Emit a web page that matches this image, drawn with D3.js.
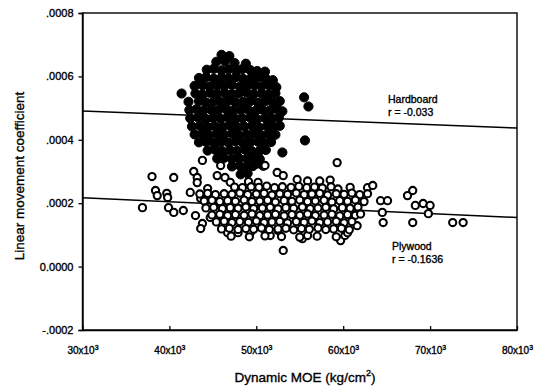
<!DOCTYPE html>
<html><head><meta charset="utf-8">
<script src="https://cdn.jsdelivr.net/npm/d3@7"></script>
<style>
body{margin:0;background:#fff}
text{font-family:"Liberation Sans",Arial,Helvetica,sans-serif;fill:#000;stroke:#000;stroke-width:0.35px}
</style>
</head><body><svg id="c" width="545" height="387"></svg>
<script>
// Dynamic MOE in 10^3 kg/cm^2, linear movement coefficient
const xTicks = [30, 40, 50, 60, 70, 80];
const yTicks = [-0.0002, 0, 0.0002, 0.0004, 0.0006, 0.0008];
const yTickLabels = ["-.0002", "0.0000", ".0002", ".0004", ".0006", ".0008"];

const hardboardFit = [[30, 0.000491], [80, 0.000437]];
const plywoodFit = [[30, 0.000217], [80, 0.000155]];

const hardboard = [
[46.0,.000668],[46.9,.000664],
[45.4,.000646],[46.4,.000648],[47.5,.000642],[48.8,.000640],
[44.3,.000621],[45.1,.000624],[46.0,.000619],[46.8,.000622],[47.7,.000618],[48.4,.000623],[49.3,.000620],[50.1,.000617],[51.0,.000615],
[43.4,.000595],[44.2,.000597],[45.1,.000593],[46.0,.000596],[46.8,.000594],[47.7,.000598],[48.5,.000592],[49.4,.000595],[50.3,.000597],[51.1,.000593],[51.9,.000588],
[42.9,.000570],[43.8,.000572],[44.6,.000568],[45.5,.000571],[46.3,.000569],[47.2,.000573],[48.1,.000567],[48.9,.000570],[49.8,.000572],[50.6,.000568],[51.5,.000571],[52.3,.000566],
[41.4,.000546],[43.0,.000546],[43.8,.000543],[44.7,.000548],[45.5,.000545],[46.4,.000547],[47.2,.000544],[48.0,.000546],[48.9,.000549],[49.7,.000544],[50.6,.000546],[51.4,.000543],[52.2,.000547],
[42.2,.000520],[43.4,.000522],[44.2,.000518],[45.1,.000521],[45.9,.000519],[46.8,.000523],[47.6,.000518],[48.5,.000520],[49.3,.000522],[50.2,.000517],[51.0,.000521],[51.9,.000519],[52.7,.000522],
[42.3,.000494],[43.1,.000496],[43.9,.000492],[44.8,.000495],[45.6,.000493],[46.5,.000497],[47.3,.000492],[48.2,.000494],[49.0,.000496],[49.9,.000491],[50.7,.000495],[51.6,.000493],[52.4,.000496],[53.0,.000490],
[42.4,.000468],[43.3,.000470],[44.2,.000466],[45.0,.000469],[45.9,.000467],[46.7,.000471],[47.6,.000466],[48.4,.000468],[49.3,.000470],[50.1,.000465],[51.0,.000469],[51.8,.000467],[52.6,.000470],
[42.6,.000442],[43.5,.000444],[44.4,.000440],[45.2,.000443],[46.1,.000441],[46.9,.000445],[47.8,.000440],[48.6,.000442],[49.5,.000444],[50.3,.000439],[51.2,.000443],[52.0,.000441],[52.7,.000444],
[42.9,.000417],[43.8,.000419],[44.6,.000415],[45.5,.000418],[46.3,.000416],[47.2,.000420],[48.0,.000415],[48.9,.000417],[49.7,.000419],[50.6,.000414],[51.4,.000418],[52.2,.000416],
[43.4,.000392],[44.2,.000394],[45.1,.000390],[45.9,.000393],[46.8,.000391],[47.6,.000395],[48.5,.000390],[49.3,.000392],[50.2,.000394],[51.0,.000389],[51.7,.000393],
[44.4,.000366],[45.3,.000368],[46.1,.000364],[47.0,.000367],[47.8,.000365],[48.7,.000369],[49.5,.000364],[50.4,.000366],[51.1,.000368],
[45.5,.000341],[46.3,.000343],[47.2,.000339],[48.0,.000342],[48.9,.000340],[49.7,.000344],[50.4,.000339],
[47.2,.000316],[48.1,.000318],[48.9,.000314],[49.6,.000317],[50.1,.000325],
[48.2,.000291],[49.0,.000294],
[55.5,.000534],[56.0,.000505],[55.6,.000398],[53.0,.000360],[50.8,.000318]
];

const plywood = [
[38.0,.000284],[40.5,.000281],[42.8,.000300],[43.2,.000281],[43.2,.000265],[43.8,.000335],[45.9,.000319],[45.5,.000287],[46.4,.000281],[44.4,.000246],
[51.0,.000319],[52.4,.000297],[53.1,.000287],[59.3,.000328],[62.8,.000249],[63.4,.000256],[64.3,.000208],[65.1,.000208],[64.5,.000171],[64.6,.000139],
[67.4,.000224],[68.0,.000240],[68.3,.000193],[69.2,.000199],[69.8,.000167],[68.0,.000139],[70.0,.000193],[72.6,.000139],[73.8,.000139],
[38.4,.000240],[38.6,.000224],[39.7,.000231],[39.8,.000218],[36.9,.000186],[39.9,.000186],[40.5,.000171],[41.6,.000177],[42.4,.000234],[43.6,.000215],
[43.0,.000161],[43.8,.000136],[43.6,.000120],[44.7,.000155],
[53.1,.000051],[55.3,.000088],[55.9,.000098],[59.7,.000082],[60.2,.000098],[60.5,.000107],[61.6,.000129],[46.7,.000107],[47.9,.000107],[49.3,.000107],
[50.8,.000120],[51.6,.000098],[52.5,.000114],
[47.0,.000266],[49.1,.000268],[50.2,.000266],[54.7,.000275],[55.9,.000270],[57.3,.000270],[58.5,.000273],
[51.2,.000254],[59.4,.000245],[60.8,.000250],[47.5,.000251],[48.4,.000249],[49.4,.000252],[50.3,.000250],[52.1,.000249],[53.0,.000252],[54.0,.000250],
[54.9,.000253],[55.8,.000249],[56.7,.000251],[57.6,.000248],[58.6,.000252],
[43.5,.000229],[44.4,.000231],[45.3,.000227],[46.3,.000230],[47.2,.000228],[48.1,.000232],[49.0,.000227],[50.0,.000229],[50.9,.000231],[51.8,.000226],
[52.7,.000230],[53.6,.000228],[54.6,.000232],[55.5,.000227],[56.4,.000229],[57.3,.000231],[58.2,.000226],[59.2,.000230],[60.1,.000228],[61.0,.000232],[61.9,.000227],[62.8,.000230],
[44.0,.000207],[44.9,.000209],[45.8,.000205],[46.7,.000208],[47.6,.000206],[48.6,.000210],[49.5,.000205],[50.4,.000207],[51.3,.000209],[52.2,.000204],
[53.2,.000208],[54.1,.000206],[55.0,.000210],[55.9,.000205],[56.8,.000207],[57.8,.000209],[58.7,.000204],[59.6,.000208],[60.5,.000206],[61.4,.000210],[62.4,.000205],
[44.2,.000185],[45.1,.000187],[46.1,.000183],[47.0,.000186],[47.9,.000184],[48.8,.000188],[49.7,.000183],[50.7,.000185],[51.6,.000187],[52.5,.000182],
[53.4,.000186],[54.3,.000184],[55.3,.000188],[56.2,.000183],[57.1,.000185],[58.0,.000187],[58.9,.000182],[59.9,.000186],[60.8,.000184],[61.7,.000188],
[44.9,.000163],[45.8,.000165],[46.7,.000161],[47.6,.000164],[48.6,.000162],[49.5,.000166],[50.4,.000161],[51.3,.000163],[52.2,.000165],[53.2,.000160],
[54.1,.000164],[55.0,.000162],[55.9,.000166],[56.8,.000161],[57.8,.000163],[58.7,.000165],[59.6,.000160],[60.5,.000164],[61.4,.000162],[62.0,.000166],
[45.4,.000141],[46.3,.000143],[47.2,.000139],[48.1,.000142],[49.1,.000140],[50.0,.000144],[50.9,.000139],[51.8,.000141],[52.7,.000143],[53.6,.000138],
[54.6,.000142],[55.5,.000140],[56.4,.000144],[57.3,.000139],[58.2,.000141],[59.2,.000143],[60.1,.000138],[61.0,.000142],
[46.0,.000119],[46.9,.000121],[47.9,.000117],[48.8,.000120],[49.7,.000118],[50.6,.000122],[51.5,.000117],[52.5,.000119],[53.4,.000121],[54.3,.000116],
[55.2,.000120],[56.1,.000118],[57.1,.000122],[58.0,.000117],[58.9,.000119],[59.8,.000121],[60.7,.000116],
[47.1,.000096],[49.2,.000094],[51.0,.000097],[52.9,.000095],[55.0,.000093],[57.0,.000096],[59.2,.000094]
];

const svg = d3.select("#c");
const x = d3.scaleLinear().domain([30, 80]).range([82.5, 517]);
const y = d3.scaleLinear().domain([-0.0002, 0.0008]).range([330, 13]);

// frame
svg.append("rect").attr("x", x(30)).attr("y", y(0.0008))
  .attr("width", x(80) - x(30)).attr("height", y(-0.0002) - y(0.0008))
  .attr("fill", "none").attr("stroke", "#000").attr("stroke-width", 1.4);

// fit lines
const line = d3.line().x(d => x(d[0])).y(d => y(d[1]));
[hardboardFit, plywoodFit].forEach(f => {
  svg.append("path").attr("d", line(f)).attr("fill", "none")
    .attr("stroke", "#000").attr("stroke-width", 1.5);
});

// points
svg.append("g").selectAll("circle").data(hardboard).join("circle")
  .attr("cx", d => x(d[0])).attr("cy", d => y(d[1])).attr("r", 4.6)
  .attr("fill", "#000").attr("stroke", "#000").attr("stroke-width", 1);
svg.append("g").selectAll("circle").data(plywood).join("circle")
  .attr("cx", d => x(d[0])).attr("cy", d => y(d[1])).attr("r", 3.6)
  .attr("fill", "#fff").attr("stroke", "#000").attr("stroke-width", 2.1);

// y axis
const ya = svg.append("g").attr("transform", `translate(${x(30)},0)`)
  .call(d3.axisLeft(y).tickValues(yTicks).tickFormat((d, i) => yTickLabels[i]).tickSize(4).tickPadding(5));
ya.select(".domain").attr("stroke-width", 1.4);
ya.selectAll(".tick line").attr("stroke-width", 1.3);
ya.selectAll("text").attr("font-size", 11).attr("font-family", "Liberation Sans, Arial, sans-serif");

// x axis
const xa = svg.append("g").attr("transform", `translate(0,${y(-0.0002)})`)
  .call(d3.axisBottom(x).tickValues(xTicks).tickSizeInner(-4).tickSizeOuter(0).tickFormat(""));
xa.select(".domain").attr("stroke-width", 1.4);
xa.selectAll(".tick line").attr("stroke-width", 1.3);
xa.selectAll(".tick").append("text").attr("y", 24).attr("text-anchor", "middle")
  .attr("font-size", 10).attr("font-family", "Liberation Sans, Arial, sans-serif")
  .each(function(d) {
    const t = d3.select(this);
    t.append("tspan").text(d + "x10");
    t.append("tspan").attr("font-size", 7).attr("dy", -4).text("3");
  });

// axis titles
const xt = svg.append("text").attr("x", 305).attr("y", 382).attr("text-anchor", "middle").attr("font-size", 13.5);
xt.append("tspan").text("Dynamic MOE (kg/cm");
xt.append("tspan").attr("font-size", 9).attr("dy", -6).text("2");
xt.append("tspan").attr("dy", 6).text(")");

svg.append("text").attr("transform", "translate(24,176) rotate(-90)")
  .attr("text-anchor", "middle").attr("font-size", 13.5).text("Linear movement coefficient");

// annotations
svg.append("text").attr("x", 388).attr("y", 103).attr("font-size", 10.5).text("Hardboard");
svg.append("text").attr("x", 388).attr("y", 116).attr("font-size", 10.5).text("r = -0.033");
svg.append("text").attr("x", 392).attr("y", 250).attr("font-size", 10.5).text("Plywood");
svg.append("text").attr("x", 392).attr("y", 263).attr("font-size", 10.5).text("r = -0.1636");
</script>
</body></html>
